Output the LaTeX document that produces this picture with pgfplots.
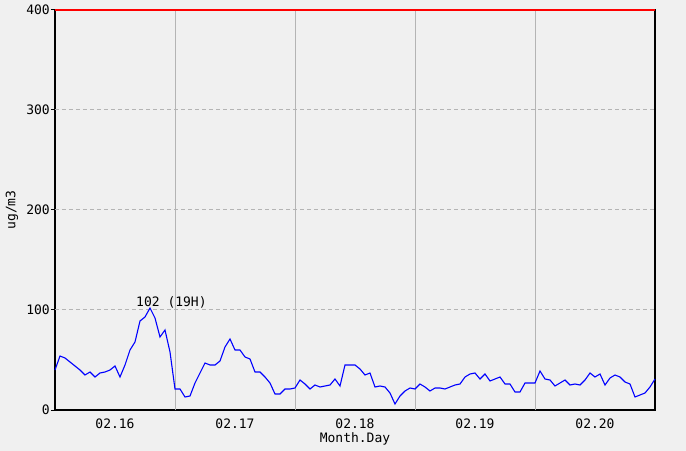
\documentclass[border=0pt]{standalone}
\usepackage{fontspec}
\setmainfont{DejaVu Sans Mono}
\usepackage{pgfplots}
\pgfplotsset{compat=1.18}
\definecolor{bg}{RGB}{240,240,240}
\definecolor{gridc}{RGB}{180,180,180}
\begin{document}
\fontsize{13bp}{15bp}\selectfont
\begin{tikzpicture}
\fill[bg] (-55bp,-41bp) rectangle (631bp,410bp);
\path[use as bounding box] (-55bp,-41bp) rectangle (631bp,410bp);
\begin{axis}[
  at={(0,0)}, anchor=south west,
  scale only axis, width=600bp, height=400bp,
  xmin=0, xmax=120, ymin=0, ymax=400,
  axis background/.style={fill=none},
  axis line style={black, line width=1.2bp},
  /pgf/number format/assume math mode=true,
  tick label style={font=\fontsize{13bp}{15bp}\selectfont},
  xtick={12,36,60,84,108},
  xticklabels={02.16,02.17,02.18,02.19,02.20},
  x tick style={draw=none},
  xticklabel style={inner sep=0pt, anchor=north, yshift=-5bp},
  extra x ticks={24,48,72,96},
  extra x tick labels={},
  extra x tick style={grid=major, major grid style={gridc, line width=1bp, solid}, tick style={draw=none}},
  ytick={0,100,200,300,400},
  ytick pos=left,
  y tick style={black, line width=1bp},
  tick align=outside,
  major tick length=4bp,
  yticklabel style={inner sep=1bp, anchor=east},
  extra y ticks={100,200,300},
  extra y tick labels={},
  extra y tick style={grid=major, major grid style={gridc, line width=1bp, dash pattern=on 4bp off 3bp}, tick style={draw=none}},
  xlabel={Month.Day},
  ylabel={ug/m3},
  xlabel style={at={(axis description cs:0.5,-0.0725)}, anchor=center, font=\fontsize{13bp}{15bp}\selectfont},
  ylabel style={at={(axis description cs:-0.0717,0.5)}, anchor=center, font=\fontsize{13bp}{15bp}\selectfont},
  clip=false,
]
\addplot[blue, line width=1.1bp] coordinates {
(0,40) (1,54) (2,52) (3,48) (4,44) (5,40) (6,35) (7,38) (8,33) (9,37)
(10,38) (11,40) (12,44) (13,33) (14,45) (15,60) (16,68) (17,89) (18,93) (19,102)
(20,92) (21,73) (22,80) (23,58) (24,21) (25,21) (26,13) (27,14) (28,27) (29,37)
(30,47) (31,45) (32,45) (33,49) (34,63) (35,71) (36,60) (37,60) (38,53) (39,51)
(40,38) (41,38) (42,33) (43,27) (44,16) (45,16) (46,21) (47,21) (48,22) (49,30)
(50,26) (51,21) (52,25) (53,23) (54,24) (55,25) (56,31) (57,24) (58,45) (59,45)
(60,45) (61,41) (62,35) (63,37) (64,23) (65,24) (66,23) (67,17) (68,6) (69,14)
(70,19) (71,22) (72,21) (73,26) (74,23) (75,19) (76,22) (77,22) (78,21) (79,23)
(80,25) (81,26) (82,33) (83,36) (84,37) (85,31) (86,36) (87,29) (88,31) (89,33)
(90,26) (91,26) (92,18) (93,18) (94,27) (95,27) (96,27) (97,39) (98,31) (99,30)
(100,24) (101,27) (102,30) (103,25) (104,26) (105,25) (106,30) (107,37) (108,33) (109,36)
(110,25) (111,32) (112,35) (113,33) (114,28) (115,26) (116,13) (117,15) (118,17) (119,23)
(120,31)
};
\draw[red, line width=1.2bp] (rel axis cs:0,1) -- (rel axis cs:1,1);
\node[anchor=base west, inner sep=0pt, font=\fontsize{13bp}{15bp}\selectfont] at (axis cs:16.2,104) {102 (19H)};
\end{axis}
\end{tikzpicture}
\end{document}
